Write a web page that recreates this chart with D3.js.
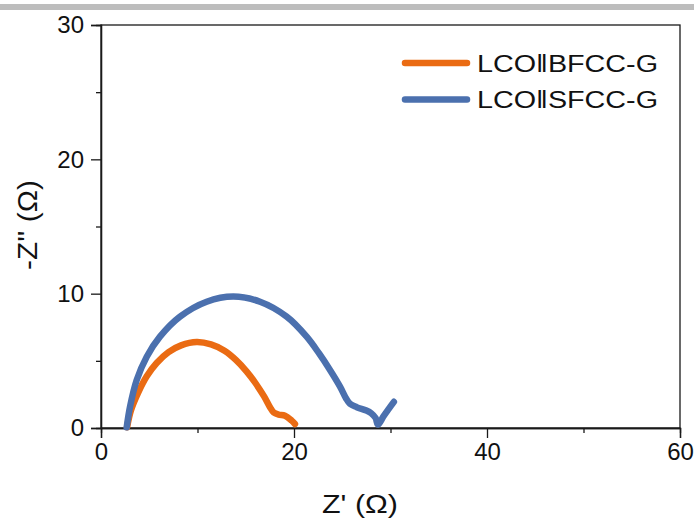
<!DOCTYPE html>
<html>
<head>
<meta charset="utf-8">
<script src="https://cdn.jsdelivr.net/npm/d3@7"></script>
<style>
  html, body { margin: 0; padding: 0; background: #fff; }
  svg { display: block; font-family: "Liberation Sans", Arial, sans-serif; }
</style>
</head>
<body>
<svg id="chart" width="697" height="520"></svg>
<script>
// Nyquist data: Z' (Ω) and -Z'' (Ω)
const bfccRe = [2.7, 3.1, 3.83, 4.74, 5.77, 7.0, 8.3, 9.92, 11.4, 12.8, 14.0, 15.1, 16.0, 16.9, 17.51, 17.9, 18.4, 19.07, 19.76, 20.1];
const bfccIm = [0.05, 1.3, 2.6, 3.85, 4.84, 5.65, 6.15, 6.4, 6.22, 5.75, 5.05, 4.2, 3.35, 2.35, 1.55, 1.15, 1.0, 0.92, 0.55, 0.3];

const sfccRe = [2.66, 3.01, 3.7, 4.74, 6.11, 8.19, 10.95, 13.71, 16.48, 19.24, 21.31, 22.6, 23.73, 24.77, 25.4, 25.8, 26.5, 27.5, 28.0, 28.45, 28.7, 29.25, 29.8, 30.35];
const sfccIm = [0.05, 1.59, 3.57, 5.31, 6.8, 8.29, 9.4, 9.78, 9.4, 8.29, 6.8, 5.55, 4.32, 3.08, 2.2, 1.8, 1.55, 1.3, 1.1, 0.75, 0.25, 0.84, 1.4, 1.95];

const seriesNames = ["LCO\u2016BFCC-G", "LCO\u2016SFCC-G"];
const seriesColors = ["#ea6b13", "#4b70ae"];

const xTicks = [0, 20, 40, 60];
const xMinorTicks = [10, 30, 50];
const yTicks = [0, 10, 20, 30];
const yMinorTicks = [5, 15, 25];

const svg = d3.select("#chart");
const plotLeft = 101, plotRight = 680, plotTop = 25, plotBottom = 428;

const x = d3.scaleLinear().domain([0, 60]).range([plotLeft, plotRight]);
const y = d3.scaleLinear().domain([0, 30]).range([plotBottom, plotTop]);

// thin grey band across the top
svg.append("rect").attr("x", 0).attr("y", 4).attr("width", 694).attr("height", 6).attr("fill", "#bdbdbd");

// plot frame
svg.append("rect")
  .attr("x", plotLeft).attr("y", plotTop)
  .attr("width", plotRight - plotLeft).attr("height", plotBottom - plotTop)
  .attr("fill", "none").attr("stroke", "#1a1a1a").attr("stroke-width", 1.3);

// axes
svg.append("g").attr("transform", `translate(0,${plotBottom})`)
  .call(d3.axisBottom(x).tickValues(xTicks).tickSize(10).tickPadding(5).tickFormat(d3.format("d")));
svg.append("g").attr("transform", `translate(0,${plotBottom})`)
  .call(d3.axisBottom(x).tickValues(xMinorTicks).tickSize(5).tickFormat(""));
svg.append("g").attr("transform", `translate(${plotLeft},0)`)
  .call(d3.axisLeft(y).tickValues(yTicks).tickSize(10).tickPadding(7).tickFormat(d3.format("d")));
svg.append("g").attr("transform", `translate(${plotLeft},0)`)
  .call(d3.axisLeft(y).tickValues(yMinorTicks).tickSize(5).tickFormat(""));

svg.selectAll(".domain").attr("stroke", "#1a1a1a").attr("stroke-width", 1.3);
svg.selectAll(".tick line").attr("stroke", "#1a1a1a").attr("stroke-width", 1.3);
svg.selectAll(".tick text").attr("font-size", 24).attr("fill", "#111")
  .attr("font-family", "'Liberation Sans', Arial, sans-serif");

// axis titles
svg.append("text").attr("x", 360).attr("y", 513).attr("text-anchor", "middle")
  .attr("font-size", 26).attr("fill", "#111")
  .attr("textLength", 76).attr("lengthAdjust", "spacingAndGlyphs").text("Z' (\u03A9)");
svg.append("text").attr("transform", "translate(37,225) rotate(-90)").attr("text-anchor", "middle")
  .attr("font-size", 27).attr("fill", "#111")
  .attr("textLength", 90).attr("lengthAdjust", "spacingAndGlyphs").text("-Z'' (\u03A9)");

// curves (orange underneath, blue on top)
const line = d3.line().x(d => x(d[0])).y(d => y(d[1])).curve(d3.curveCatmullRom.alpha(0.5));
const data = [d3.zip(bfccRe, bfccIm), d3.zip(sfccRe, sfccIm)];

svg.append("path").datum(data[0]).attr("d", line)
  .attr("fill", "none").attr("stroke", seriesColors[0]).attr("stroke-width", 6.5)
  .attr("stroke-linejoin", "round").attr("stroke-linecap", "round");
svg.append("path").datum(data[1]).attr("d", line)
  .attr("fill", "none").attr("stroke", seriesColors[1]).attr("stroke-width", 6.5)
  .attr("stroke-linejoin", "round").attr("stroke-linecap", "round");

// legend
const legend = svg.append("g");
seriesNames.forEach((name, i) => {
  const ly = 63 + i * 36.5;
  legend.append("line").attr("x1", 405).attr("x2", 467).attr("y1", ly).attr("y2", ly)
    .attr("stroke", seriesColors[i]).attr("stroke-width", 6.5).attr("stroke-linecap", "round");
  legend.append("text").attr("x", 477).attr("y", ly + 8.7).attr("font-size", 23)
    .attr("fill", "#111").attr("textLength", 181).attr("lengthAdjust", "spacingAndGlyphs").text(name);
});
</script>
</body>
</html>
